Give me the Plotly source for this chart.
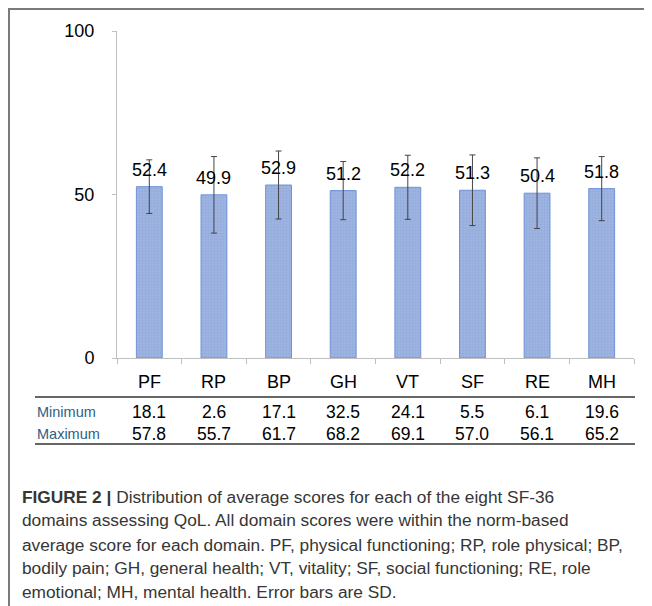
import plotly.graph_objects as go

categories = ["PF", "RP", "BP", "GH", "VT", "SF", "RE", "MH"]
means = [52.4, 49.9, 52.9, 51.2, 52.2, 51.3, 50.4, 51.8]
sds = [8.2, 11.7, 10.4, 8.9, 9.8, 10.8, 10.8, 9.8]
minimum = [18.1, 2.6, 17.1, 32.5, 24.1, 5.5, 6.1, 19.6]
maximum = [57.8, 55.7, 61.7, 68.2, 69.1, 57.0, 56.1, 65.2]
y_ticks = [0, 50, 100]
row_labels = ["Minimum", "Maximum"]
caption_lines = [
    "<b>FIGURE 2 |</b> Distribution of average scores for each of the eight SF-36",
    "domains assessing QoL. All domain scores were within the norm-based",
    "average score for each domain. PF, physical functioning; RP, role physical; BP,",
    "bodily pain; GH, general health; VT, vitality; SF, social functioning; RE, role",
    "emotional; MH, mental health. Error bars are SD.",
]

# page has an 8px body margin; figure sized to fill the rest of the window
OFF = 8
W, H = 644, 598
L, R, T, B = 109, 18, 23, 248
PW = W - L - R
PH = H - T - B


def px(X):
    return (X - OFF - L) / PW


def py(Y):
    return (H - B - (Y - OFF)) / PH


FONT = "Liberation Sans, Arial, sans-serif"

fig = go.Figure()
fig.add_trace(go.Bar(
    x=categories,
    y=means,
    marker=dict(
        color="#9DB3E0",
        line=dict(color="#6F93D8", width=1),
        pattern=dict(shape=".", fgcolor="#87A1D8", size=3, solidity=0.35),
    ),
    error_y=dict(type="data", array=sds, visible=True, color="#444444",
                 thickness=1, width=3),
    width=0.4,
    hoverinfo="skip",
))

annotations = []
for c, m in zip(categories, means):
    annotations.append(dict(x=c, y=m, xref="x", yref="y", text=f"{m:.1f}",
                            showarrow=False, yanchor="bottom", yshift=5,
                            font=dict(family=FONT, size=18, color="#000000")))

# table header (category names)
for c in categories:
    annotations.append(dict(x=c, y=py(382), xref="x", yref="paper", text=c,
                            showarrow=False, yanchor="middle",
                            font=dict(family=FONT, size=18, color="#000000")))

row_y = [412, 434]
for lbl, vals, yy in zip(row_labels, [minimum, maximum], row_y):
    annotations.append(dict(x=px(35), y=py(yy), xref="paper", yref="paper",
                            text=lbl, showarrow=False, xanchor="left",
                            yanchor="middle",
                            font=dict(family=FONT, size=14.5, color="#2E5F82")))
    for c, v in zip(categories, vals):
        annotations.append(dict(x=c, y=py(yy), xref="x", yref="paper",
                                text=f"{v:.1f}", showarrow=False,
                                yanchor="middle",
                                font=dict(family=FONT, size=17.5, color="#000000")))

cap_y = [497, 520, 545, 568, 592]
for line, yy in zip(caption_lines, cap_y):
    annotations.append(dict(x=px(20), y=py(yy), xref="paper", yref="paper",
                            text=line, showarrow=False, xanchor="left",
                            yanchor="middle",
                            font=dict(family=FONT, size=17.3, color="#363636")))

shapes = [
    dict(type="line", xref="paper", yref="paper", x0=px(35), x1=px(635),
         y0=py(397), y1=py(397), line=dict(color="#333333", width=1.5)),
    dict(type="line", xref="paper", yref="paper", x0=px(35), x1=px(635),
         y0=py(444), y1=py(444), line=dict(color="#333333", width=1.5)),
    dict(type="line", xref="paper", yref="paper", x0=px(8), x1=px(652),
         y0=py(9), y1=py(9), line=dict(color="#7A7A7A", width=2)),
    dict(type="line", xref="paper", yref="paper", x0=px(9), x1=px(9),
         y0=py(8), y1=py(606), line=dict(color="#7A7A7A", width=2)),
]

fig.update_layout(
    width=W, height=H,
    margin=dict(l=L, r=R, t=T, b=B, pad=0),
    paper_bgcolor="white", plot_bgcolor="white",
    showlegend=False,
    bargap=0.6,
    annotations=annotations,
    shapes=shapes,
    font=dict(family=FONT, size=18, color="#000000"),
    xaxis=dict(
        range=[-0.5, 7.5], showticklabels=False, showgrid=False,
        showline=True, linecolor="#BFBFBF", linewidth=1,
        ticks="outside", ticklen=5, tickcolor="#BFBFBF", tickson="boundaries",
        zeroline=False, fixedrange=True,
    ),
    yaxis=dict(
        range=[0, 100], tickmode="array", tickvals=y_ticks,
        ticktext=[str(v) for v in y_ticks], showgrid=False,
        showline=True, linecolor="#BFBFBF", linewidth=1,
        ticks="outside", ticklen=4, tickcolor="#BFBFBF",
        ticklabelstandoff=14, zeroline=False, fixedrange=True,
        tickfont=dict(family=FONT, size=18, color="#000000"),
    ),
)

fig.write_html("out.html")
